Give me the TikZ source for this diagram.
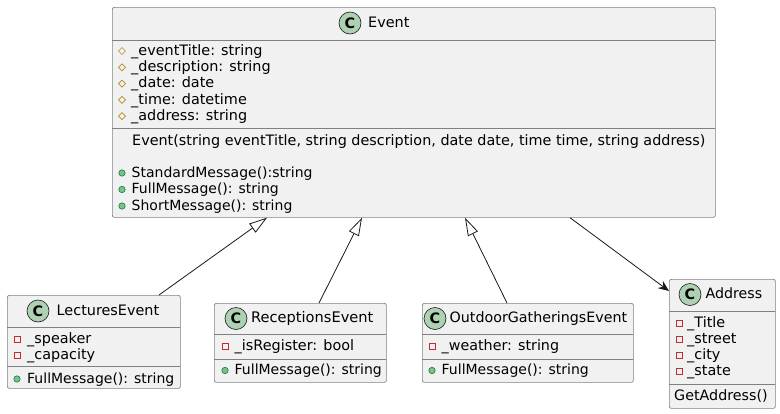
\documentclass[tikz,border=0pt]{standalone}
\usepackage{fontspec}
\setmainfont{DejaVu Sans}
\usetikzlibrary{arrows.meta,calc}
\definecolor{boxfill}{HTML}{F1F1F1}
\definecolor{boxline}{HTML}{181818}
\definecolor{cgreen}{HTML}{ADD1B2}
\definecolor{protc}{HTML}{B38D22}
\definecolor{privc}{HTML}{C82930}
\definecolor{pubfill}{HTML}{84BE84}
\definecolor{publine}{HTML}{038048}
\begin{document}
\begin{tikzpicture}[x=1pt,y=-1pt,
  font=\fontsize{14.4}{16}\selectfont,
  box/.style={draw=boxline!55, fill=boxfill, line width=0.7pt, rounded corners=2pt, anchor=north west, inner sep=0},
  sepline/.style={draw=boxline!55, line width=0.7pt},
  txt/.style={anchor=west, inner sep=0, text height=10pt, text depth=3pt},
  meth/.style={txt, font=\fontsize{14}{16}\selectfont},
  classic/.style={circle, draw=boxline, line width=0.6pt, fill=cgreen, minimum size=22pt, inner sep=0, font=\fontsize{14.4}{16}\selectfont\bfseries},
  protic/.pic={\draw[protc, line width=0.7pt] (-3.5,0)--(0,-3.5)--(3.5,0)--(0,3.5)--cycle;},
  privic/.pic={\draw[privc, line width=0.7pt] (-3,-3) rectangle (3,3);},
  pubic/.pic={\draw[publine, fill=pubfill, line width=0.6pt] (0,0) circle (3.2);},
  inh/.style={draw=boxline, line width=0.8pt, -{Triangle[open, length=18pt, width=11pt, fill=white]}},
  assoc/.style={draw=boxline, line width=0.8pt, -{Stealth[length=11pt, width=9pt, inset=4pt]}}
]
\useasboundingbox (0,0) rectangle (780,413);

% ---------------- Event ----------------
\node[box, minimum width=603pt, minimum height=210pt] (event) at (112,7) {};
\node[classic] (eventC) at (350,23) {C};
\node[txt] (eventT) at (368,23.5) {Event};
\draw[sepline] (112,40) -- (715,40);
\draw[sepline] (112,128) -- (715,128);
\foreach \yy/\t [count=\i] in {51/{\_eventTitle: string},67.3/{\_description: string},83.6/{\_date: date},99.9/{\_time: datetime},116.2/{\_address: string}}{
  \pic at (122,\yy) {protic};
  \node[txt] (eattr\i) at (131,\yy+0.8) {\t};
}
\node[txt, font=\fontsize{14.37}{16}\selectfont] (ector) at (132,141.5) {Event(string eventTitle, string description, date date, time time, string address)};
\foreach \yy/\t [count=\i] in {173/{StandardMessage():string},189.5/{FullMessage(): string},206/{ShortMessage(): string}}{
  \pic at (122,\yy) {pubic};
  \node[meth] (emeth\i) at (131.5,\yy+0.8) {\t};
}

% ---------------- LecturesEvent ----------------
\node[box, minimum width=173pt, minimum height=93pt] (lect) at (7,295) {};
\node[classic] (lectC) at (38,311) {C};
\node[txt] (lectT) at (56.5,311.5) {LecturesEvent};
\draw[sepline] (7,327) -- (180,327);
\draw[sepline] (7,366) -- (180,366);
\pic at (17,339) {privic};
\node[txt] (lecta1) at (27,339.8) {\_speaker};
\pic at (17,355) {privic};
\node[txt] (lecta2) at (27,355.8) {\_capacity};
\pic at (17,379) {pubic};
\node[meth] (lectm1) at (27,379.8) {FullMessage(): string};

% ---------------- ReceptionsEvent ----------------
\node[box, minimum width=172pt, minimum height=79pt] (recep) at (214,303) {};
\node[classic] (recepC) at (236,318.5) {C};
\node[txt, font=\fontsize{14.6}{16}\selectfont] (recepT) at (251,319) {ReceptionsEvent};
\draw[sepline] (214,334) -- (386,334);
\draw[sepline] (214,359) -- (386,359);
\pic at (225,346) {privic};
\node[txt] (recepa1) at (234.5,346.8) {\_isRegister: bool};
\pic at (225,370.5) {pubic};
\node[meth] (recepm1) at (234.5,371.3) {FullMessage(): string};

% ---------------- OutdoorGatheringsEvent ----------------
\node[box, minimum width=211pt, minimum height=79pt] (outd) at (422,303) {};
\node[classic] (outdC) at (435,318.5) {C};
\node[txt, font=\fontsize{14.25}{16}\selectfont] (outdT) at (449.5,319) {OutdoorGatheringsEvent};
\draw[sepline] (422,334) -- (633,334);
\draw[sepline] (422,359) -- (633,359);
\pic at (432,346) {privic};
\node[txt, font=\fontsize{14.3}{16}\selectfont] (outda1) at (441.5,346.8) {\_weather: string};
\pic at (432,370.5) {pubic};
\node[meth] (outdm1) at (441.5,371.3) {FullMessage(): string};

% ---------------- Address ----------------
\node[box, minimum width=106pt, minimum height=129pt] (addr) at (669,279) {};
\node[classic] (addrC) at (690,294.5) {C};
\node[txt, font=\fontsize{14.2}{16}\selectfont] (addrT) at (705.5,295) {Address};
\draw[sepline] (669,311) -- (775,311);
\draw[sepline] (669,384) -- (775,384);
\foreach \yy/\t [count=\i] in {323/{\_Title},339/{\_street},355/{\_city},371/{\_state}}{
  \pic at (679,\yy) {privic};
  \node[txt] (addra\i) at (687,\yy+0.8) {\t};
}
\node[txt, font=\fontsize{14.3}{16}\selectfont] (addrm1) at (674,396.8) {GetAddress()};

% ---------------- connectors ----------------
\draw[inh] ([xshift=152pt]lect.north west) -- ([xshift=155pt]event.south west);
\draw[inh] ([xshift=105pt]recep.north west) -- ([xshift=250pt]event.south west);
\draw[inh] ([xshift=85pt]outd.north west) -- ([xshift=353pt]event.south west);
\draw[assoc] ([xshift=458pt]event.south west) -- ([yshift=-12pt]addr.north west);
\end{tikzpicture}
\end{document}
